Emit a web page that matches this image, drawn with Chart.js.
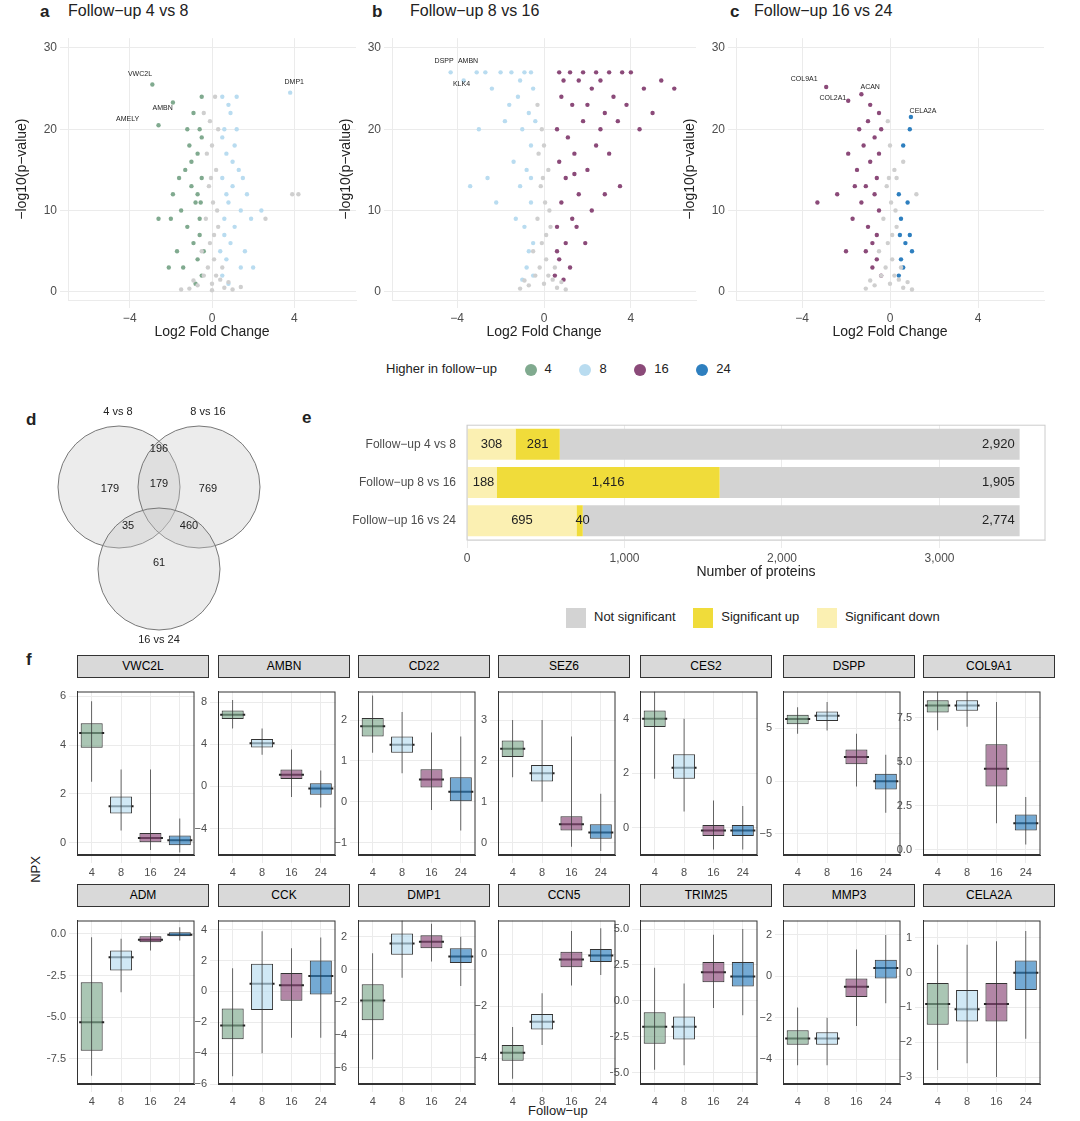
<!DOCTYPE html>
<html>
<head>
<meta charset="utf-8">
<script src="https://cdn.jsdelivr.net/npm/chart.js@4.4.0/dist/chart.umd.min.js"></script>
<style>
  body { margin: 0; width: 1080px; height: 1121px; background: #fff; position: relative; font-family: "Liberation Sans", Arial, sans-serif; overflow: hidden; }
  canvas, .t { position: absolute; }
  .t { color: #222; white-space: nowrap; }
  .tag { font-weight: bold; font-size: 17px; }
  .title { font-size: 16px; }
  .strip { position: absolute; background: #d9d9d9; border: 1px solid #333; font-size: 12px; text-align: center; line-height: 21px; box-sizing: border-box; height: 23px; }
  .dot { display: inline-block; width: 12px; height: 12px; border-radius: 50%; vertical-align: middle; margin: 0 8px 0 24px; }
  .sq { display: inline-block; width: 20px; height: 20px; vertical-align: middle; margin: 0 8px 0 14px; }
</style>
</head>
<body>
<div class="t tag" style="left:40px;top:2px">a</div><div class="t title" style="left:68px;top:2px">Follow−up 4 vs 8</div>
<div class="t tag" style="left:372px;top:2px">b</div><div class="t title" style="left:410px;top:2px">Follow−up 8 vs 16</div>
<div class="t tag" style="left:730px;top:2px">c</div><div class="t title" style="left:754px;top:2px">Follow−up 16 vs 24</div>
<canvas id="va" width="350" height="317" style="left:10px;top:28px"></canvas>
<canvas id="vb" width="366" height="317" style="left:334px;top:28px"></canvas>
<canvas id="vc" width="370" height="317" style="left:678px;top:28px"></canvas>
<div class="t" style="left:386px;top:361px;font-size:13px">Higher in follow−up
  <span class="dot" style="background:#80aa8f"></span>4
  <span class="dot" style="background:#b9dcf0"></span>8
  <span class="dot" style="background:#8b4a79"></span>16
  <span class="dot" style="background:#2e7fbf"></span>24</div>
<div class="t tag" style="left:26px;top:410px">d</div>
<div class="t tag" style="left:302px;top:408px">e</div>
<canvas id="venn" width="280" height="250" style="left:20px;top:400px"></canvas>
<canvas id="bar" width="740" height="170" style="left:307px;top:415px"></canvas>
<div class="t" style="left:552px;top:608px;font-size:13px">
  <span class="sq" style="background:#d3d3d3"></span>Not significant
  <span class="sq" style="background:#f0dc3a"></span>Significant up
  <span class="sq" style="background:#fbf0b2"></span>Significant down</div>
<div class="t tag" style="left:26px;top:650px">f</div>
<div class="t" style="left:22px;top:862px;font-size:13px;transform:rotate(-90deg)">NPX</div>
<div class="t" style="left:528px;top:1103px;font-size:13px">Follow−up</div>
<div id="boxes"></div>
<script>
// ---- volcano data ----
const grayA = [[0,1],[0.2,2],[-0.2,3],[0.4,1.5],[-0.4,2],[0.1,4],[-0.1,6],[0.3,8],[-0.3,9],[0.05,11],[-0.15,13],[0.2,15],[0,18],[-0.1,21],[0.15,24],[0.6,0.5],[-0.7,0.8],[1,0.3],[-1.1,0.4],[1.4,0.6],[-1.5,0.3],[0.5,3],[-0.5,5],[0.25,10],[-0.25,17],[0,0.2],[0.8,1.2],[-0.9,1.4],[0.1,7],[-0.05,14],[3.9,12],[4.2,12],[2.6,9],[0.3,20],[-0.4,22]];
const greenA = [[-0.5,2],[-0.7,4],[-0.9,6],[-1.2,8],[-0.6,9],[-1.5,10],[-0.8,11],[-1,13],[-1.9,12],[-0.5,14],[-1.3,15],[-0.7,17],[-1.1,18],[-0.6,20],[-0.9,22],[-0.5,24],[-1.7,5],[-2.1,3],[-0.6,7],[-1.4,3],[-0.8,1],[-2,9],[-1.2,20],[-0.7,12],[-1,16],[-2.6,9],[-0.5,19],[-1.6,14],[-0.4,5],[-0.55,11],[-2.9,25.5],[-1.9,23.3],[-2.6,20.5]];
const blueA = [[0.5,2],[0.7,4],[0.9,6],[1.1,8],[0.6,9],[1.4,10],[0.8,11],[1,13],[1.7,12],[0.5,14],[1.3,15],[0.7,17],[1.1,18],[0.6,20],[0.9,22],[0.5,24],[1.6,5],[2,3],[0.6,7],[1.4,3],[0.8,1],[1.9,9],[1.2,20],[0.7,12],[1,16],[2.4,10],[0.5,19],[1.5,14],[0.4,5],[1.2,24],[0.8,23],[3.8,24.5]];
const labelsA = [['VWC2L',-3.5,26.8],['AMBN',-2.4,22.6],['AMELY',-4.1,21.2],['DMP1',4,25.8]];

const grayB = [[0,1],[0.2,2],[-0.2,3],[0.4,1.5],[-0.4,2],[0.1,4],[-0.1,6],[0.3,8],[-0.3,9],[0.05,11],[-0.15,13],[0.2,15],[0,18],[-0.1,20],[0.6,0.5],[-0.7,0.8],[1,0.3],[-1.1,0.4],[0.5,3],[-0.5,5],[0.25,10],[-0.25,17],[0.8,1.2],[-0.9,1.4],[0.1,7],[-0.3,23],[-0.05,14]];
const lightB = [[-0.5,2],[-0.7,5],[-0.9,8],[-0.6,11],[-1.1,13],[-0.8,15],[-1.4,16],[-0.6,18],[-1,20],[-1.8,21],[-0.7,22],[-1.2,24],[-0.5,25],[-0.9,27],[-1.5,27],[-2,27],[-0.6,27],[-2.4,25],[-1.6,23],[-0.8,3],[-1.3,9],[-2.2,11],[-3,20],[-2.6,14],[-0.5,6],[-1,1.5],[-0.6,14],[-1.1,26],[-0.4,21],[-3.4,13],[-4.3,27],[-3.1,27],[-3.7,26],[-2.7,27]];
const purpleB = [[0.5,2],[0.7,4],[1,6],[0.6,8],[1.3,9],[0.8,11],[1.6,12],[1,14],[2,15],[0.7,16],[1.4,17],[2.4,18],[1.1,19],[0.6,20],[1.8,21],[2.8,22],[1.3,23],[0.8,24],[2.2,25],[3.2,24],[1.6,26],[0.7,27],[1.2,27],[1.8,27],[2.4,27],[3,27],[3.6,27],[4,27],[0.9,26],[2,23],[2.6,20],[3.4,21],[1.5,8],[2.2,10],[3.5,13],[0.6,5],[1.2,3],[4.4,20],[5,22],[6,25],[5.4,26],[4.6,25],[3,17],[1.9,6],[2.8,12],[0.9,1.5],[1.4,14.5],[2.6,26],[3.8,23]];
const labelsB = [['DSPP',-4.6,28.4],['AMBN',-3.5,28.4],['KLK4',-3.8,25.5]];

const grayC = [[0,1],[0.2,2],[-0.2,3],[0.4,1.5],[-0.4,2],[0.1,4],[-0.1,6],[0.3,8],[-0.3,9],[0.05,11],[-0.15,13],[0.2,15],[0,18],[-0.1,21],[0.6,0.5],[-0.7,0.8],[1,0.3],[-1.1,0.4],[0.5,3],[-0.5,5],[0.25,10],[0.8,1.2],[-0.9,1.4],[0.1,7],[0.3,14],[0.6,16],[1.2,12],[-0.05,14]];
const purpleC = [[-0.4,2],[-0.6,4],[-0.8,6],[-1,8],[-0.5,10],[-1.3,11],[-0.7,12],[-1.1,13],[-0.6,14],[-1.5,15],[-0.9,16],[-0.5,17],[-1.2,18],[-0.7,19],[-1.9,17],[-0.4,20],[-1,21],[-2.4,12],[-1.7,9],[-2,5],[-0.8,3],[-3.3,11],[-1.4,20],[-0.9,23],[-0.6,7],[-1.1,5],[-1.6,13],[-0.5,22],[-2.9,25.2],[-1.9,23.5],[-1.3,24.3]];
const blueC = [[0.4,2],[0.5,4],[0.7,6],[0.9,7],[0.5,9],[0.6,3],[1,5],[0.8,11],[0.4,12],[0.9,20],[0.6,18],[0.95,21.5],[0.45,7]];
const labelsC = [['COL9A1',-3.9,26.2],['COL2A1',-2.6,23.8],['ACAN',-0.9,25.2],['CELA2A',1.5,22.2]];

// ---- venn ----
const vennSets = [['4 vs 8',98,12],['8 vs 16',188,12],['16 vs 24',139,240]];
const vennCircles = [[99,87],[179,87],[139,169]];
const vennCounts = [['179',90,89],['196',139,49],['769',188,89],['179',139,84],['35',108,126],['460',169,126],['61',139,163]];

// ---- bar ----
const comparisons = ['Follow−up 4 vs 8','Follow−up 8 vs 16','Follow−up 16 vs 24'];
const sigDown = [308,188,695];
const sigUp = [281,1416,40];
const notSig = [2920,1905,2774];
const barTicks = [0,1000,2000,3000];

// ---- boxes: [q1, median, q3, low, high] for follow-up 4, 8, 16, 24 ----
const followUps = ['4','8','16','24'];
const proteins = ['VWC2L','AMBN','CD22','SEZ6','CES2','DSPP','COL9A1','ADM','CCK','DMP1','CCN5','TRIM25','MMP3','CELA2A'];
const boxStats = [
  [[3.9,4.5,4.9,2.5,5.8],[1.2,1.5,1.9,0.5,3],[0,0.2,0.4,-0.3,3],[-0.1,0.1,0.3,-0.4,1]],
  [[6.4,6.8,7.2,5.5,8.2],[3.7,4.1,4.5,3,5.5],[0.7,1.1,1.6,-1,3.5],[-0.8,-0.2,0.3,-2,1.5]],
  [[1.6,1.85,2.05,1.2,2.6],[1.2,1.4,1.6,0.7,2.2],[0.35,0.55,0.8,-0.2,1.7],[0,0.25,0.6,-0.7,1.6]],
  [[2.1,2.3,2.5,1.6,3],[1.5,1.7,1.9,1,3],[0.3,0.45,0.65,-0.1,2.6],[0.1,0.25,0.45,-0.2,1.2]],
  [[3.7,4,4.3,1.8,5],[1.8,2.2,2.7,0.6,4],[-0.3,-0.1,0.1,-0.8,1],[-0.3,-0.1,0.1,-0.8,0.8]],
  [[5.4,5.9,6.3,4.5,7],[5.7,6.2,6.6,4.8,7.5],[1.6,2.3,3,-0.5,4.5],[-0.8,0,0.7,-3,2.5]],
  [[7.8,8.2,8.5,6.8,9],[7.9,8.2,8.5,7,9],[3.6,4.6,6,1.5,8.4],[1.1,1.5,2,0.3,3]],
  [[-7,-5.3,-2.9,-8.5,-0.2],[-2.2,-1.4,-1,-3.5,-0.3],[-0.5,-0.35,-0.15,-1,0.1],[-0.15,-0.05,0.1,-0.4,0.4]],
  [[-3.1,-2.2,-1.1,-5.5,1.5],[-1.2,0.5,1.8,-4,3.9],[-0.6,0.4,1.2,-3,2.8],[-0.2,1,2,-3,3.5]],
  [[-3.1,-1.9,-0.9,-5.5,1],[0.9,1.6,2.2,-0.5,3],[1.3,1.7,2.1,0.5,2.8],[0.4,0.8,1.3,-1,2]],
  [[-4.1,-3.8,-3.5,-4.8,-2.8],[-2.9,-2.6,-2.3,-3.5,-1.5],[-0.5,-0.2,0.1,-1.2,0.9],[-0.3,-0.05,0.2,-0.8,1]],
  [[-3,-1.8,-0.8,-4.8,2.3],[-2.7,-1.8,-1.1,-4.5,1.2],[1.3,2,2.7,-0.5,4.6],[1,1.7,2.7,-1,5]],
  [[-3.3,-3,-2.6,-4.3,-1.5],[-3.3,-3,-2.7,-4.3,-2],[-1,-0.5,-0.1,-2.4,1.3],[-0.1,0.4,0.8,-1.3,2]],
  [[-1.5,-0.9,-0.3,-2.8,0.8],[-1.4,-1.05,-0.5,-2.6,0.8],[-1.4,-0.9,-0.3,-3,0.9],[-0.5,0,0.35,-1.9,1.2]]
];
const boxRanges = [[-0.5,6.2],[-6.5,9],[-1.3,2.7],[-0.3,3.7],[-1,5],[-7,8.5],[-0.3,9],[-9,0.8],[-6,4.6],[-7,3],[-5,1.3],[-5.8,5.6],[-5.2,2.7],[-3.2,1.5]];
const boxTicks = [[0,2,4,6],[-4,0,4,8],[-1,0,1,2],[0,1,2,3],[0,2,4],[-5,0,5],[0,2.5,5,7.5],[-7.5,-5,-2.5,0],[-6,-4,-2,0,2,4],[-6,-4,-2,0,2],[-4,-2,0],[-5,-2.5,0,2.5,5],[-4,-2,0,2],[-3,-2,-1,0,1]];

const C4 = '#80aa8f', C8 = '#b9dcf0', C16 = '#8b4a79', C24 = '#2e7fbf', GRAY = '#cfcfcf';
const fuColors = [C4, C8, C16, C24];

Chart.defaults.animation = false;
Chart.defaults.responsive = false;
Chart.defaults.font.family = '"Liberation Sans", Arial, sans-serif';
Chart.defaults.color = '#4d4d4d';
Chart.defaults.plugins.legend.display = false;
Chart.defaults.plugins.tooltip.enabled = false;

const minus = s => String(s).replace('-', '−');

const textPlugin = {
  id: 'texts',
  afterDatasetsDraw(chart, args, opts) {
    if (!opts.items) return;
    const { ctx, scales } = chart;
    ctx.save();
    ctx.fillStyle = opts.color || '#222';
    ctx.font = (opts.size || 9) + 'px "Liberation Sans", Arial';
    ctx.textAlign = 'center';
    ctx.textBaseline = 'middle';
    opts.items.forEach(([t, x, y]) => ctx.fillText(t, scales.x.getPixelForValue(x), scales.y.getPixelForValue(y)));
    ctx.restore();
  }
};

const pts = arr => arr.map(([x, y]) => ({ x, y }));

function volcano(id, groups, labels) {
  new Chart(document.getElementById(id), {
    type: 'scatter',
    data: { datasets: groups.map(([d, c]) => ({ data: pts(d), backgroundColor: c, borderWidth: 0, pointRadius: 2.2 })) },
    options: {
      layout: { padding: { right: 2 } },
      scales: {
        x: { min: -7, max: 7, ticks: { font: { size: 12 }, callback: v => minus(v) },
             afterBuildTicks: s => { s.ticks = [-4,0,4].map(v => ({ value: v })); },
             grid: { color: '#ebebeb' }, border: { display: true, color: '#ebebeb' },
             title: { display: true, text: 'Log2 Fold Change', color: '#222', font: { size: 14 } },
             afterFit: s => { s.height = 45; } },
        y: { min: -1, max: 31.2, ticks: { font: { size: 12 } },
             afterBuildTicks: s => { s.ticks = [0,10,20,30].map(v => ({ value: v })); },
             grid: { color: '#ebebeb' }, border: { display: true, color: '#ebebeb' },
             title: { display: true, text: '−log10(p−value)', color: '#222', font: { size: 14 } },
             afterFit: s => { s.width = 58; } }
      },
      plugins: { texts: { items: labels, size: 7 } }
    },
    plugins: [textPlugin]
  });
}
volcano('va', [[grayA, GRAY], [greenA, C4], [blueA, C8]], labelsA);
volcano('vb', [[grayB, GRAY], [lightB, C8], [purpleB, C16]], labelsB);
volcano('vc', [[grayC, GRAY], [purpleC, C16], [blueC, C24]], labelsC);

// venn
new Chart(document.getElementById('venn'), {
  type: 'scatter',
  data: { datasets: [{ data: pts(vennCircles), pointRadius: 61, backgroundColor: 'rgba(200,200,200,0.35)', borderColor: '#777', borderWidth: 1, clip: false }] },
  options: {
    layout: { padding: 0, autoPadding: false },
    scales: { x: { display: false, min: 0, max: 280 }, y: { display: false, min: 0, max: 250, reverse: true } },
    plugins: { texts: { items: vennCounts.concat(vennSets), size: 11 } }
  },
  plugins: [textPlugin]
});

// bar
const barLabelPlugin = {
  id: 'barLabels',
  afterDatasetsDraw(chart) {
    const ctx = chart.ctx;
    ctx.save();
    ctx.font = '13px "Liberation Sans", Arial';
    ctx.fillStyle = '#222';
    ctx.textBaseline = 'middle';
    chart.data.datasets.forEach((ds, di) => {
      chart.getDatasetMeta(di).data.forEach((bar, i) => {
        const txt = ds.data[i].toLocaleString('en-US');
        const w = Math.abs(bar.x - bar.base);
        ctx.textAlign = 'center';
        if (di === 2) { ctx.textAlign = 'right'; ctx.fillText(txt, bar.x - 5, bar.y); }
        else if (w < 30) ctx.fillText(txt, di === 0 ? bar.base + 16 : bar.base + w / 2 + 3, bar.y);
        else ctx.fillText(txt, (bar.x + bar.base) / 2, bar.y);
      });
    });
    ctx.restore();
  }
};
new Chart(document.getElementById('bar'), {
  type: 'bar',
  data: { labels: comparisons, datasets: [
    { data: sigDown, backgroundColor: '#fbf0b2' },
    { data: sigUp, backgroundColor: '#f0dc3a' },
    { data: notSig, backgroundColor: '#d3d3d3' }
  ] },
  options: {
    indexAxis: 'y',
    datasets: { bar: { barPercentage: 0.9, categoryPercentage: 0.9 } },
    layout: { padding: { right: 2 } },
    scales: {
      x: { stacked: true, min: 0, max: 3670, ticks: { font: { size: 12 }, callback: v => v.toLocaleString('en-US') },
           afterBuildTicks: s => { s.ticks = barTicks.map(v => ({ value: v })); },
           grid: { color: '#ebebeb' }, border: { display: true, color: '#ebebeb' },
           title: { display: true, text: 'Number of proteins', color: '#222', font: { size: 14 } },
           afterFit: s => { s.height = 45; } },
      y: { stacked: true, ticks: { font: { size: 12 }, color: '#4d4d4d' }, grid: { display: false }, border: { display: true, color: '#ebebeb' },
           afterFit: s => { s.width = 160; } }
    }
  },
  plugins: [barLabelPlugin, {
    id: 'frame', afterDraw(c) { const a = c.chartArea; c.ctx.save(); c.ctx.strokeStyle = '#ccc'; c.ctx.strokeRect(a.left, a.top, a.width, a.height); c.ctx.restore(); }
  }]
});

// boxes
const colLeft = [77, 218, 358, 498, 640, 783, 923];
const rowTop = [677, 906];
const boxHost = document.getElementById('boxes');
proteins.forEach((name, p) => {
  const row = Math.floor(p / 7), col = p % 7;
  const left = colLeft[col], top = rowTop[row], w = 132, h = 178;
  const strip = document.createElement('div');
  strip.className = 'strip';
  strip.style.cssText = `left:${left}px;top:${top - 22}px;width:${w}px`;
  strip.textContent = name;
  boxHost.appendChild(strip);
  const cv = document.createElement('canvas');
  cv.width = w + 30; cv.height = h + 22;
  cv.style.left = (left - 30) + 'px'; cv.style.top = top + 'px';
  boxHost.appendChild(cv);
  const st = boxStats[p];
  const fills = fuColors.map(c => c + 'aa');
  const tk = boxTicks[p];
  const dec = tk.some(v => v % 1 !== 0);
  new Chart(cv, {
    type: 'bar',
    data: { labels: followUps, datasets: [
      { data: st.map(s => [s[3], s[4]]), backgroundColor: '#333', barPercentage: 0.025, categoryPercentage: 1, grouped: false },
      { data: st.map(s => [s[0], s[2]]), backgroundColor: fills, borderColor: '#333', borderWidth: 1, borderSkipped: false, barPercentage: 0.75, categoryPercentage: 1, grouped: false },
      { type: 'line', data: st.map(s => s[1]), showLine: false, pointStyle: 'line', pointRadius: 12.5, borderColor: '#222', borderWidth: 2 }
    ] },
    options: {
      layout: { padding: { right: 1, top: 0 } },
      scales: {
        x: { ticks: { font: { size: 11 } }, grid: { color: '#ebebeb', offset: false }, border: { display: true, color: '#333' },
             afterFit: s => { s.height = 22; } },
        y: { min: boxRanges[p][0], max: boxRanges[p][1], ticks: { font: { size: 11 }, callback: v => minus(dec ? v.toFixed(1) : v) },
             afterBuildTicks: s => { s.ticks = tk.map(v => ({ value: v })); },
             grid: { color: '#ebebeb' }, border: { display: true, color: '#333' },
             afterFit: s => { s.width = 30; } }
      }
    },
    plugins: [{ id: 'frame', afterDraw(c) { const a = c.chartArea; c.ctx.save(); c.ctx.strokeStyle = '#333'; c.ctx.strokeRect(a.left + 0.5, a.top + 0.5, a.width - 1, a.height - 1); c.ctx.restore(); } }]
  });
});
</script>
</body>
</html>
